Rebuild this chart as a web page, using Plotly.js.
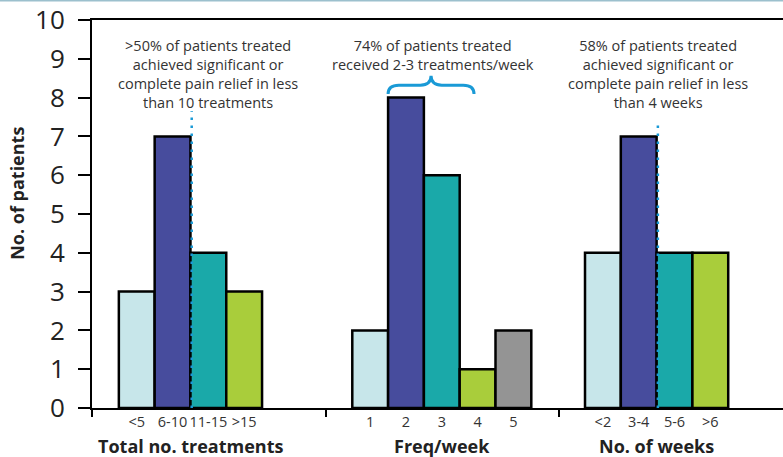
<!DOCTYPE html>
<html>
<head>
<meta charset="utf-8">
<script src="https://cdn.plot.ly/plotly-3.0.1.min.js"></script>
<style>
  html, body { margin: 0; padding: 0; background: #fff; }
  #chart { width: 783px; height: 457px; }
</style>
</head>
<body>
<div id="chart"></div>
<script>
// ---- data ----
const groupTitles = ["Total no. treatments", "Freq/week", "No. of weeks"];
const treatCats = ["<5", "6-10", "11-15", ">15"];
const treatVals = [3, 7, 4, 3];
const freqCats = ["1", "2", "3", "4", "5"];
const freqVals = [2, 8, 6, 1, 2];
const weekCats = ["<2", "3-4", "5-6", ">6"];
const weekVals = [4, 7, 4, 4];
const yTickVals = [0, 1, 2, 3, 4, 5, 6, 7, 8, 9, 10];
const noteTexts = [
  ">50% of patients treated<br>achieved significant or<br>complete pain relief in less<br>than 10 treatments",
  "74% of patients treated<br>received 2-3 treatments/week",
  "58% of patients treated<br>achieved significant or<br>complete pain relief in less<br>than 4 weeks"
];

// ---- layout / style constants ----
const palette = ["#c7e6ea", "#474c9d", "#1aa9a9", "#a9cd3b", "#949494"];
const groupStart = [1.25, 7.77, 14.27];   // centre of first bar in each group (axis units)
const dividers = [0, 6.54, 13.04];        // group separator tick positions
const xRange = [0, 19.3];
const font = "Open Sans, Lato, sans-serif";
const txt = "#333333";
const blue = "#1a9ad6";
const guideNudge = 0.035;                 // guide sits just right of the bar edge

const groups = [
  {cats: treatCats, vals: treatVals},
  {cats: freqCats, vals: freqVals},
  {cats: weekCats, vals: weekVals}
];

const traces = [];
const tickVals = [], tickText = [];
groups.forEach((g, gi) => {
  const xs = g.cats.map((c, i) => groupStart[gi] + i);
  xs.forEach((x, i) => { tickVals.push(x); tickText.push(g.cats[i]); });
  traces.push({
    type: "bar",
    x: xs,
    y: g.vals,
    width: 1,
    marker: {
      color: g.cats.map((c, i) => palette[i]),
      line: {color: "#000", width: 2.5}
    },
    hoverinfo: "x+y",
    showlegend: false
  });
});

// dotted guide lines (drawn above the bars as line traces)
const guides = [
  {x: groupStart[0] + 1.5 + guideNudge, top: 7.65},
  {x: groupStart[2] + 1.5 + guideNudge, top: 7.4}
];
guides.forEach(gd => {
  traces.push({
    type: "scatter", mode: "lines", x: [gd.x, gd.x], y: [0, gd.top],
    line: {color: blue, width: 2.5, dash: "2.5px,5.5px"},
    showlegend: false, hoverinfo: "skip"
  });
});

// helper trace for the separator-tick axis
traces.push({type: "scatter", x: [], y: [], xaxis: "x2", yaxis: "y", showlegend: false, hoverinfo: "skip"});

const groupCentre = gi => groupStart[gi] + (groups[gi].cats.length - 1) / 2;

const annotations = [];
groupTitles.forEach((t, gi) => {
  annotations.push({
    text: t, xref: "x", yref: "paper", x: groupCentre(gi), y: -38 / 388,
    xanchor: "center", yanchor: "middle", showarrow: false,
    font: {family: font, size: 18, color: "#222", weight: 700}
  });
});
// notes
const noteX = [groupStart[0] + 2, groupStart[1] + 1.76, groupStart[2] + 1.53];
noteTexts.forEach((t, i) => {
  annotations.push({
    text: t, xref: "x", yref: "paper", x: noteX[i], y: (408 - 34) / 388,
    xanchor: "center", yanchor: "top", align: "center", showarrow: false,
    font: {family: font, size: 14.5, color: txt}
  });
});
// y title
annotations.push({
  text: "No. of patients", xref: "paper", yref: "paper",
  x: -75 / 691, y: 0.552, textangle: -90, showarrow: false,
  xanchor: "center", yanchor: "middle",
  font: {family: font, size: 18, color: "#222", weight: 700}
});

// brace
const bx0 = groupStart[1] + 0.5, bx1 = groupStart[1] + 2.9, bm = (bx0 + bx1) / 2;
const yb = 8.09, ya = 8.32, yp = 8.56, c = 0.3;
const shapes = [
  {type: "path", xref: "x", yref: "y",
   path: `M ${bx0},${yb} Q ${bx0},${ya} ${bx0 + c},${ya} L ${bm - c},${ya} Q ${bm},${ya} ${bm},${yp} Q ${bm},${ya} ${bm + c},${ya} L ${bx1 - c},${ya} Q ${bx1},${ya} ${bx1},${yb}`,
   line: {color: blue, width: 3}},
  {type: "line", xref: "paper", yref: "paper", x0: -92 / 691, x1: 1, y0: 407.5 / 388, y1: 407.5 / 388,
   line: {color: "#9cc0cd", width: 2}}
];

const layout = {
  width: 783, height: 457,
  margin: {l: 92, r: 0, t: 20, b: 49},
  paper_bgcolor: "#fff", plot_bgcolor: "#fff",
  bargap: 0,
  xaxis: {
    range: xRange, tickvals: tickVals, ticktext: tickText, ticks: "",
    showline: true, linecolor: "#000", linewidth: 2, mirror: true,
    showgrid: false, zeroline: false, fixedrange: true,
    tickfont: {family: font, size: 14.5, color: txt}
  },
  xaxis2: {
    overlaying: "x", anchor: "y", side: "bottom", range: xRange,
    tickvals: dividers, ticks: "outside", ticklen: 8, tickwidth: 2, tickcolor: "#000",
    showticklabels: false, showline: false, showgrid: false, zeroline: false
  },
  yaxis: {
    range: [0, 10], tickvals: yTickVals, ticks: "outside", ticklen: 12, tickwidth: 2, tickcolor: "#000",
    ticklabelstandoff: 8,
    showline: true, linecolor: "#000", linewidth: 2,
    showgrid: false, zeroline: false, fixedrange: true,
    tickfont: {family: font, size: 26, color: "#222"}
  },
  annotations: annotations,
  shapes: shapes
};

Plotly.newPlot("chart", traces, layout, {displayModeBar: false, staticPlot: true});
</script>
</body>
</html>
